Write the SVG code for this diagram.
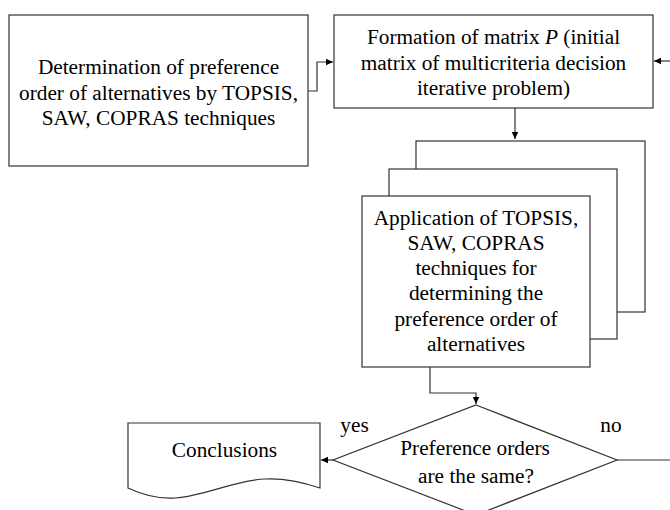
<svg xmlns="http://www.w3.org/2000/svg" width="670" height="510" viewBox="0 0 670 510">
<defs>
<marker id="ah" markerWidth="8" markerHeight="8" refX="7" refY="4" orient="auto" markerUnits="userSpaceOnUse">
<path d="M0,0.8 L7,4 L0,7.2 Z" fill="#000"/>
</marker>
<style>
.box{fill:#fff;stroke:#333;stroke-width:1.2}
.t{font-family:"Liberation Serif","Times New Roman",serif;font-size:21.3px;fill:#000;text-anchor:middle}
.c{fill:none;stroke:#333;stroke-width:1.2}
</style>
</defs>
<rect width="670" height="510" fill="#fff"/>
<g id="connectors">
<path class="c" d="M308,91 H317 V62 H333" marker-end="url(#ah)"/>
<path class="c" d="M670,61 H654" marker-end="url(#ah)"/>
<path class="c" d="M515,108 V139" marker-end="url(#ah)"/>
<path class="c" d="M430,367 V393 H476 V404" marker-end="url(#ah)"/>
<path class="c" d="M333,460 H321" marker-end="url(#ah)"/>
<path class="c" d="M617,460 H670"/>
</g>
<g id="determination">
<rect class="box" x="9" y="15" width="299" height="151"/>
<text class="t" x="158.5" y="74">Determination of preference</text>
<text class="t" x="158.5" y="99.5">order of alternatives by TOPSIS,</text>
<text class="t" x="158.5" y="125">SAW, COPRAS techniques</text>
</g>
<g id="formation">
<rect class="box" x="334" y="15" width="319" height="93"/>
<text class="t" x="493.5" y="44">Formation of matrix <tspan font-style="italic">P</tspan> (initial</text>
<text class="t" x="493.5" y="69.5">matrix of multicriteria decision</text>
<text class="t" x="493.5" y="95">iterative problem)</text>
</g>
<g id="application">
<rect class="box" x="416" y="141" width="229" height="171"/>
<rect class="box" x="389" y="169" width="228" height="170"/>
<rect class="box" x="362" y="196" width="228" height="171"/>
<text class="t" x="476" y="224.5">Application of TOPSIS,</text>
<text class="t" x="476" y="250">SAW, COPRAS</text>
<text class="t" x="476" y="275">techniques for</text>
<text class="t" x="476" y="300">determining the</text>
<text class="t" x="476" y="325.5">preference order of</text>
<text class="t" x="476" y="351">alternatives</text>
</g>
<g id="decision">
<path class="box" d="M476,405 L617,460 L476,515 L333,460 Z"/>
<text class="t" x="475" y="455">Preference orders</text>
<text class="t" x="476" y="483">are the same?</text>
<text class="t" x="354.5" y="432">yes</text>
<text class="t" x="611" y="432">no</text>
</g>
<g id="conclusions">
<path class="box" d="M128,423 H320 V488 C305,483 285,478 265,479 C235,480 205,496 175,498 C160,499 145,496 128,488 Z"/>
<text class="t" x="224.5" y="457">Conclusions</text>
</g>
</svg>
